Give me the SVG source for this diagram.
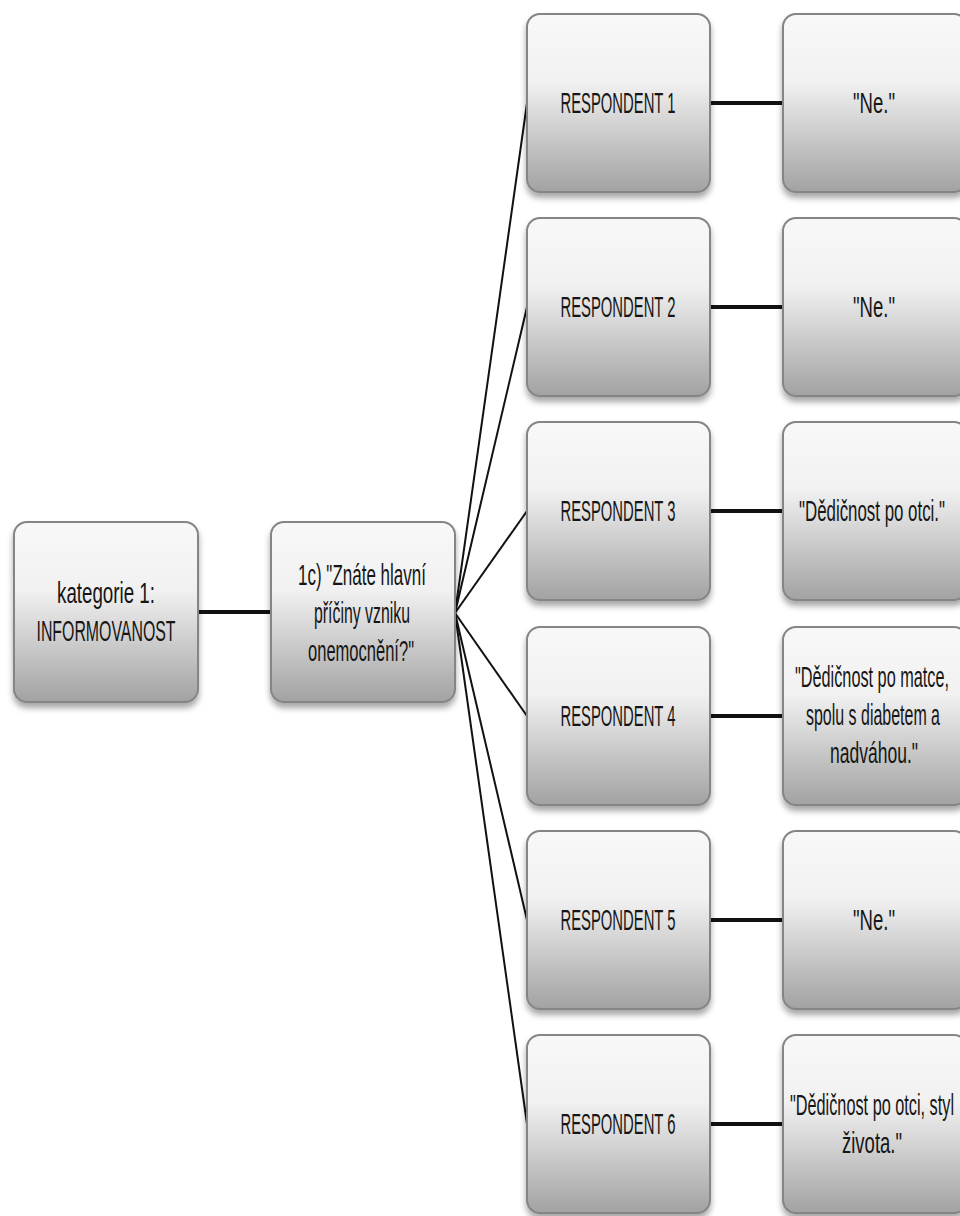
<svg xmlns="http://www.w3.org/2000/svg" width="960" height="1216" viewBox="0 0 960 1216">
  <defs>
    <linearGradient id="boxFill" x1="0" y1="0" x2="0" y2="1">
      <stop offset="0" stop-color="#f8f8f8"/>
      <stop offset="0.38" stop-color="#f1f1f1"/>
      <stop offset="1" stop-color="#a2a2a2"/>
    </linearGradient>
    <filter id="shadow" x="-10%" y="-10%" width="120%" height="125%">
      <feGaussianBlur in="SourceAlpha" stdDeviation="3"/>
      <feOffset dx="0" dy="5" result="b"/>
      <feComponentTransfer><feFuncA type="linear" slope="0.35"/></feComponentTransfer>
      <feMerge><feMergeNode/><feMergeNode in="SourceGraphic"/></feMerge>
    </filter>
  </defs>
  <style>
    .box { fill: url(#boxFill); stroke: #858585; stroke-width: 2; filter: url(#shadow); }
    text { font-family: "Liberation Sans", Arial, sans-serif; font-size: 30px; fill: #161616; text-anchor: middle; }
    .thick { stroke: #111; stroke-width: 4; fill: none; }
    .thin { stroke: #111; stroke-width: 2; fill: none; }
  </style>
  <rect width="960" height="1216" fill="#ffffff"/>

  <!-- connectors -->
  <g id="connectors">
    <line class="thick" x1="198" y1="612" x2="270" y2="612"/>
    <line class="thin" x1="455" y1="613" x2="527" y2="103"/>
    <line class="thin" x1="455" y1="613" x2="527" y2="307"/>
    <line class="thin" x1="455" y1="613" x2="527" y2="511"/>
    <line class="thin" x1="455" y1="613" x2="527" y2="716"/>
    <line class="thin" x1="455" y1="613" x2="527" y2="920"/>
    <line class="thin" x1="455" y1="613" x2="527" y2="1124"/>
    <line class="thick" x1="710" y1="103" x2="783" y2="103"/>
    <line class="thick" x1="710" y1="307" x2="783" y2="307"/>
    <line class="thick" x1="710" y1="511" x2="783" y2="511"/>
    <line class="thick" x1="710" y1="716" x2="783" y2="716"/>
    <line class="thick" x1="710" y1="920" x2="783" y2="920"/>
    <line class="thick" x1="710" y1="1124" x2="783" y2="1124"/>
  </g>

  <!-- category -->
  <g id="category">
    <rect class="box" x="14" y="522" width="184" height="180" rx="13"/>
    <text x="106" y="603" textLength="98" lengthAdjust="spacingAndGlyphs">kategorie 1:</text>
    <text x="106" y="641" textLength="139" lengthAdjust="spacingAndGlyphs">INFORMOVANOST</text>
  </g>

  <!-- question -->
  <g id="question">
    <rect class="box" x="271" y="522" width="184" height="180" rx="13"/>
    <text x="362" y="585" textLength="128" lengthAdjust="spacingAndGlyphs">1c) "Znáte hlavní</text>
    <text x="362" y="623" textLength="96" lengthAdjust="spacingAndGlyphs">příčiny vzniku</text>
    <text x="361" y="661" textLength="106" lengthAdjust="spacingAndGlyphs">onemocnění?"</text>
  </g>

  <!-- respondents -->
  <g id="respondent1">
    <rect class="box" x="527" y="14" width="183" height="178" rx="13"/>
    <text x="618" y="113" textLength="115" lengthAdjust="spacingAndGlyphs">RESPONDENT 1</text>
  </g>
  <g id="respondent2">
    <rect class="box" x="527" y="218" width="183" height="178" rx="13"/>
    <text x="618" y="317" textLength="115" lengthAdjust="spacingAndGlyphs">RESPONDENT 2</text>
  </g>
  <g id="respondent3">
    <rect class="box" x="527" y="422" width="183" height="178" rx="13"/>
    <text x="618" y="521" textLength="115" lengthAdjust="spacingAndGlyphs">RESPONDENT 3</text>
  </g>
  <g id="respondent4">
    <rect class="box" x="527" y="627" width="183" height="178" rx="13"/>
    <text x="618" y="726" textLength="115" lengthAdjust="spacingAndGlyphs">RESPONDENT 4</text>
  </g>
  <g id="respondent5">
    <rect class="box" x="527" y="831" width="183" height="178" rx="13"/>
    <text x="618" y="930" textLength="115" lengthAdjust="spacingAndGlyphs">RESPONDENT 5</text>
  </g>
  <g id="respondent6">
    <rect class="box" x="527" y="1035" width="183" height="178" rx="13"/>
    <text x="618" y="1134" textLength="115" lengthAdjust="spacingAndGlyphs">RESPONDENT 6</text>
  </g>

  <!-- answers (the column runs past the right edge of the page) -->
  <g id="answer1">
    <rect class="box" x="783" y="14" width="184" height="178" rx="13"/>
    <text x="874" y="113" textLength="42" lengthAdjust="spacingAndGlyphs">"Ne."</text>
  </g>
  <g id="answer2">
    <rect class="box" x="783" y="218" width="184" height="178" rx="13"/>
    <text x="874" y="317" textLength="42" lengthAdjust="spacingAndGlyphs">"Ne."</text>
  </g>
  <g id="answer3">
    <rect class="box" x="783" y="422" width="184" height="178" rx="13"/>
    <text x="872" y="521" textLength="146" lengthAdjust="spacingAndGlyphs">"Dědičnost po otci."</text>
  </g>
  <g id="answer4">
    <rect class="box" x="783" y="627" width="184" height="178" rx="13"/>
    <text x="872" y="687" textLength="154" lengthAdjust="spacingAndGlyphs">"Dědičnost po matce,</text>
    <text x="873" y="725" textLength="134" lengthAdjust="spacingAndGlyphs">spolu s diabetem a</text>
    <text x="874" y="763" textLength="88" lengthAdjust="spacingAndGlyphs">nadváhou."</text>
  </g>
  <g id="answer5">
    <rect class="box" x="783" y="831" width="184" height="178" rx="13"/>
    <text x="874" y="930" textLength="42" lengthAdjust="spacingAndGlyphs">"Ne."</text>
  </g>
  <g id="answer6">
    <rect class="box" x="783" y="1035" width="184" height="178" rx="13"/>
    <text x="872" y="1115" textLength="164" lengthAdjust="spacingAndGlyphs">"Dědičnost po otci, styl</text>
    <text x="872" y="1153" textLength="60" lengthAdjust="spacingAndGlyphs">života."</text>
  </g>
</svg>
